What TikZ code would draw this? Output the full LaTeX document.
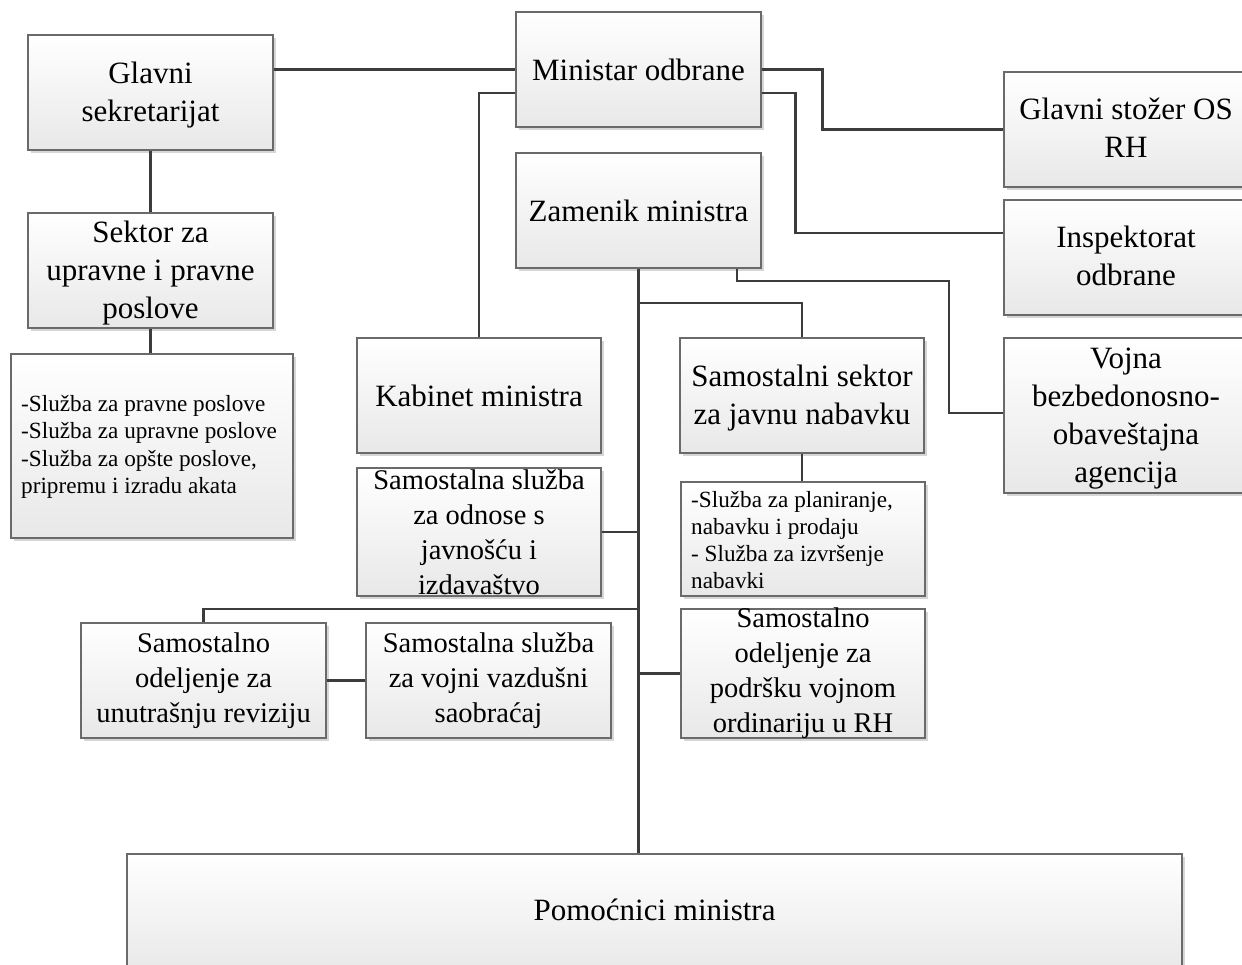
\documentclass[tikz,border=0pt]{standalone}
\usepackage{fontspec}
\setmainfont{Liberation Serif}
\usetikzlibrary{shadows}
\definecolor{boxline}{HTML}{6A6A6A}
\definecolor{boxbot}{HTML}{E8E8E8}
\definecolor{conn}{HTML}{3C3C3C}
\definecolor{shad}{HTML}{BBBBBB}
\tikzset{
  box/.style={draw=boxline, line width=1.3pt, top color=white, bottom color=boxbot, inner sep=0pt,
    drop shadow={shadow xshift=3pt, shadow yshift=-3pt, fill=shad, opacity=0.6}},
  big/.style={font=\fontsize{31}{38}\selectfont, align=center, inner sep=0pt},
  mid/.style={font=\fontsize{28.5}{35}\selectfont, align=center, inner sep=0pt},
  small/.style={font=\fontsize{23.2}{27.3}\selectfont, align=left, inner sep=0pt, anchor=west},
  link/.style={draw=conn, line width=2.4pt},
}
\begin{document}
\begin{tikzpicture}[x=1pt,y=-1pt]
\useasboundingbox (0,0) rectangle (1242,965);
% boxes
\node[box, minimum width=245pt, minimum height=115pt] (gs) at (150.5,92.5) {};
\node[big, yshift=-3pt] at (gs) {Glavni\\sekretarijat};
\node[box, minimum width=245pt, minimum height=115pt] (min) at (638.5,69.5) {};
\node[big] at (min) {Ministar odbrane};
\node[box, minimum width=245pt, minimum height=115pt] (zam) at (638.5,210.5) {};
\node[big] at (zam) {Zamenik ministra};
\node[box, minimum width=244pt, minimum height=115pt] (stozer) at (1126,129.5) {};
\node[big, yshift=1.5pt] at (stozer) {Glavni stožer OS\\RH};
\node[box, minimum width=244pt, minimum height=115pt] (insp) at (1126,257.5) {};
\node[big, yshift=1.5pt] at (insp) {Inspektorat\\odbrane};
\node[box, minimum width=244pt, minimum height=155pt] (vojna) at (1126,415.5) {};
\node[big, yshift=-3pt] at (vojna) {Vojna\\bezbedonosno-\\obaveštajna\\agencija};
\node[box, minimum width=245pt, minimum height=115pt] (sek) at (150.5,270.5) {};
\node[big, yshift=-2.5pt] at (sek) {Sektor za\\upravne i pravne\\poslove};
\node[box, minimum width=282pt, minimum height=184pt] (sluz) at (152,446) {};
\node[small] at (21,447) {-Služba za pravne poslove\\-Služba za upravne poslove\\-Služba za opšte poslove,\\pripremu i izradu akata};
\node[box, minimum width=244pt, minimum height=115pt] (kab) at (479,395.5) {};
\node[big] at (kab) {Kabinet ministra};
\node[box, minimum width=244pt, minimum height=115pt] (nab) at (802,395.5) {};
\node[big, yshift=-3pt] at (nab) {Samostalni sektor\\za javnu nabavku};
\node[box, minimum width=244pt, minimum height=114pt] (plan) at (803,539) {};
\node[small] at (691,540) {-Služba za planiranje,\\nabavku i prodaju\\- Služba za izvršenje\\nabavki};
\node[box, minimum width=244pt, minimum height=128pt] (odn) at (479,532) {};
\node[mid] at (odn) {Samostalna služba\\za odnose s\\javnošću i\\izdavaštvo};
\node[box, minimum width=245pt, minimum height=115pt] (vazd) at (488.5,680.5) {};
\node[mid] at (vazd) {Samostalna služba\\za vojni vazdušni\\saobraćaj};
\node[box, minimum width=245pt, minimum height=115pt] (unut) at (203.5,680.5) {};
\node[mid] at (unut) {Samostalno\\odeljenje za\\unutrašnju reviziju};
\node[box, minimum width=244pt, minimum height=129pt] (pod) at (803,673.5) {};
\node[mid] at (pod) {Samostalno\\odeljenje za\\podršku vojnom\\ordinariju u RH};
\node[box, minimum width=1055pt, minimum height=121pt] (pom) at (654.5,914.5) {};
\node[big] at (654.5,910) {Pomoćnici ministra};
% connectors
\draw[link] (gs.east |- min.west) -- (min.west);
\draw[link] ([yshift=-23.5pt]min.west) -| (kab.north);
\draw[link] (min.east) -- ++(61,0) |- (stozer.west);
\draw[link] ([yshift=-23.5pt]min.east) -- ++(34,0) |- ([yshift=24.5pt]insp.west);
\coordinate (vb) at (949,281);
\draw[link] ([xshift=98.5pt]zam.south) |- (vb) |- ([yshift=2.5pt]vojna.west);
\draw[link] (zam.south) -- (zam.south |- pom.north);
\coordinate (jb) at (638.5,303);
\draw[link] (jb) -| (nab.north);
\draw[link] (nab.south) -- (nab.south |- plan.north);
\draw[link] (odn.east) -- (odn.east -| zam.south);
\coordinate (jl) at (638.5,609);
\draw[link] (jl) -| (unut.north);
\draw[link] (unut.east) -- (vazd.west);
\draw[link] (pod.west -| zam.south) -- (pod.west);
\draw[link] (gs.south) -- (sek.north);
\draw[link] (sek.south) -- (sek.south |- sluz.north);
\end{tikzpicture}
\end{document}
